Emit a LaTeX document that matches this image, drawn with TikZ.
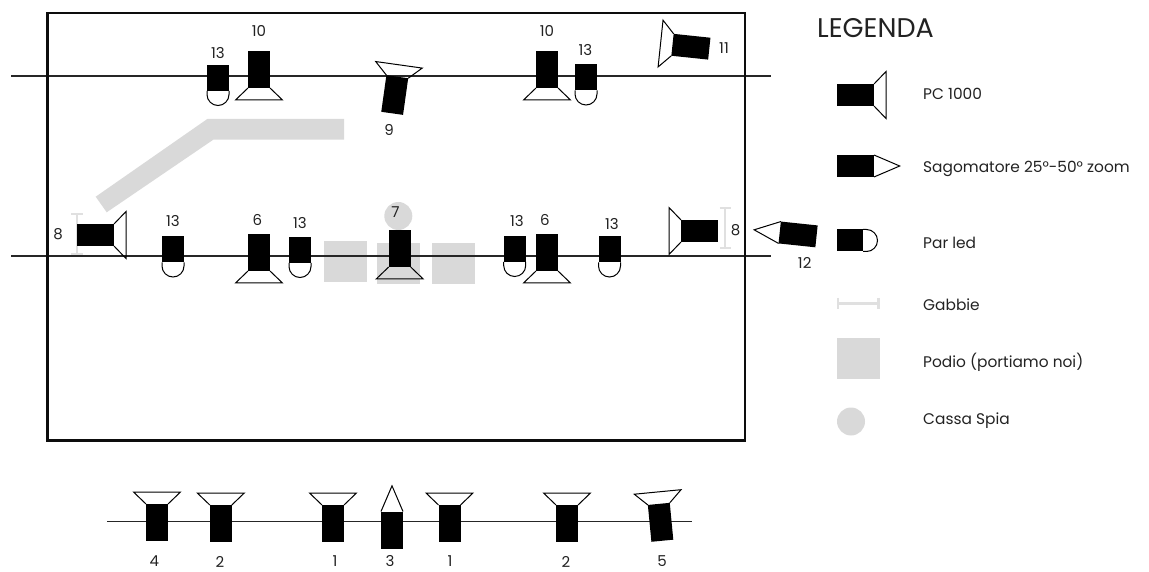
\documentclass[tikz,border=0pt]{standalone}
\usepackage{fontspec}
\setmainfont{Poppins}
\definecolor{podiogrey}{HTML}{D9D9D9}
\definecolor{gabbiagrey}{HTML}{E0E0E0}
\definecolor{inkgrey}{HTML}{222222}

\begin{document}
\begin{tikzpicture}[
    x=1pt, y=-1pt,
    every node/.style={text=inkgrey, inner sep=0pt},
    num/.style={font=\fontsize{15}{16}\selectfont},
    legtext/.style={font=\fontsize{15.4}{17}\selectfont, anchor=mid west},
    podio/.style={fill=podiogrey},
    bar/.style={line width=1.2pt, black!85},
    gabbia/.style={gabbiagrey, line width=2.2pt},
    pclight/.pic={
        \fill[black] (-37,-11) rectangle (0,11);
        \draw[line width=1pt, line join=miter] (0,-11) -- (12,-23.5) -- (12,23.5) -- (0,11);
    },
    sagoma/.pic={
        \fill[black] (-37,-11) rectangle (0,11);
        \draw[line width=1pt] (0,-11) -- (25.7,0) -- (0,11);
    },
    parled/.pic={
        \fill[black] (-26,-11) rectangle (0,11);
        \draw[line width=1pt] (0,-11) -- (3.5,-11) arc[start angle=90, end angle=-90, radius=11pt] -- (0,11);
    }
]
\useasboundingbox (0,0) rectangle (1149,572);

% Podi and ramp
\fill[podio] (207.3,119) -- (344,119) -- (344,139.7) -- (213.3,139.7) -- (106.7,212.3) -- (95.7,196.7) -- cycle;
\fill[podio] (324,241) rectangle (367,282);
\fill[podio] (377,243) rectangle (420,284);
\fill[podio] (432,243) rectangle (475,284);
\fill[podio] (398.3,216) circle[radius=14pt];

% Bars
\coordinate (topL) at (11,76);
\coordinate (topR) at (771,76);
\coordinate (midL) at (11,256);
\coordinate (midR) at (771,256);
\coordinate (lowL) at (107.3,521.3);
\coordinate (lowR) at (691.7,521.3);
\draw[bar] (topL) -- (topR);
\draw[bar] (midL) -- (midR);
\draw[bar] (lowL) -- (lowR);

% Frame
\draw[line width=2.4pt, black!95] (47.3,13) rectangle (745,440.5);

% Gabbie
\draw[gabbia] (71,214) -- (83,214) (76.7,214) -- (76.7,254) (71,254) -- (83,254);
\draw[gabbia] (719.5,208) -- (731,208) (725.3,208) -- (725.3,248) (719.5,248) -- (731,248);

% Top row
\pic[rotate=-90] at (218,91) {parled};
\pic[rotate=-90] at (259,88) {pclight};
\pic[rotate=82] at (397.3,76.7) {pclight};
\pic[rotate=-90] at (547,88) {pclight};
\pic[rotate=-90] at (586,90.5) {parled};
\pic[rotate=174] at (672.5,44.8) {pclight};

% Middle row
\pic at (114,235) {pclight};
\pic[rotate=-90] at (173,262.5) {parled};
\pic[rotate=-90] at (259,271) {pclight};
\pic[rotate=-90] at (300,263) {parled};
\pic[rotate=-90] at (399.7,267) {pclight};
\pic[rotate=-90] at (514.7,262) {parled};
\pic[rotate=-90] at (547,271) {pclight};
\pic[rotate=-90] at (609.5,262.5) {parled};
\pic[rotate=180] at (681,231) {pclight};
\pic[rotate=174] at (779.7,232.5) {sagoma};

% Low row
\pic[rotate=90] at (157,504) {pclight};
\pic[rotate=90] at (220.8,505) {pclight};
\pic[rotate=90] at (333,505) {pclight};
\pic[rotate=90] at (392,511.5) {sagoma};
\pic[rotate=90] at (449.5,505) {pclight};
\pic[rotate=90] at (567,505) {pclight};
\pic[rotate=95.5] at (658.8,503.9) {pclight};

% Numbers
\node (numA) [num] at (259,31) {10};
\node (numB) [num] at (218,53.5) {13};
\node (numC) [num] at (389,130) {9};
\node (numD) [num] at (547,31) {10};
\node (numE) [num] at (585.5,50.5) {13};
\node (numF) [num] at (724,48) {11};
\node (numG) [num] at (58,234) {8};
\node (numH) [num] at (173,221) {13};
\node (numI) [num] at (257.5,220) {6};
\node (numJ) [num] at (300,223.5) {13};
\node (numK) [num] at (395.5,212.5) {7};
\node (numL) [num] at (517,221.5) {13};
\node (numM) [num] at (545,220) {6};
\node (numN) [num] at (612,224.5) {13};
\node (numO) [num] at (735.5,230) {8};
\node (numP) [num] at (804.7,263) {12};
\node (numQ) [num] at (154.3,561.5) {4};
\node (numR) [num] at (220,561.5) {2};
\node (numS) [num] at (335,561.5) {1};
\node (numT) [num] at (390,561.5) {3};
\node (numU) [num] at (450,561.5) {1};
\node (numV) [num] at (566,561.5) {2};
\node (numW) [num] at (662,561.5) {5};

% Legend
\node (legenda) [anchor=mid west, font=\fontsize{27}{29}\selectfont] at (817,34.5) {LEGENDA};
\pic at (874,95) {pclight};
\pic at (874,166) {sagoma};
\pic at (863,240.5) {parled};
\draw[gabbia] (838,297.5) -- (838,309) (838,303.5) -- (878.5,303.5) (878.5,297.5) -- (878.5,309);
\fill[podio] (837,338) rectangle (880,379);
\fill[podio] (851,421.5) circle[radius=14pt];
\node (legPC) [legtext] at (923,96.5) {PC 1000};
\node (legSag) [legtext] at (923,169.5) {Sagomatore 25°-50° zoom};
\node (legPar) [legtext] at (923,245.5) {Par led};
\node (legGab) [legtext] at (923,307.5) {Gabbie};
\node (legPod) [legtext] at (923,364.5) {Podio (portiamo noi)};
\node (legSpia) [legtext] at (923,421.5) {Cassa Spia};

\end{tikzpicture}
\end{document}
